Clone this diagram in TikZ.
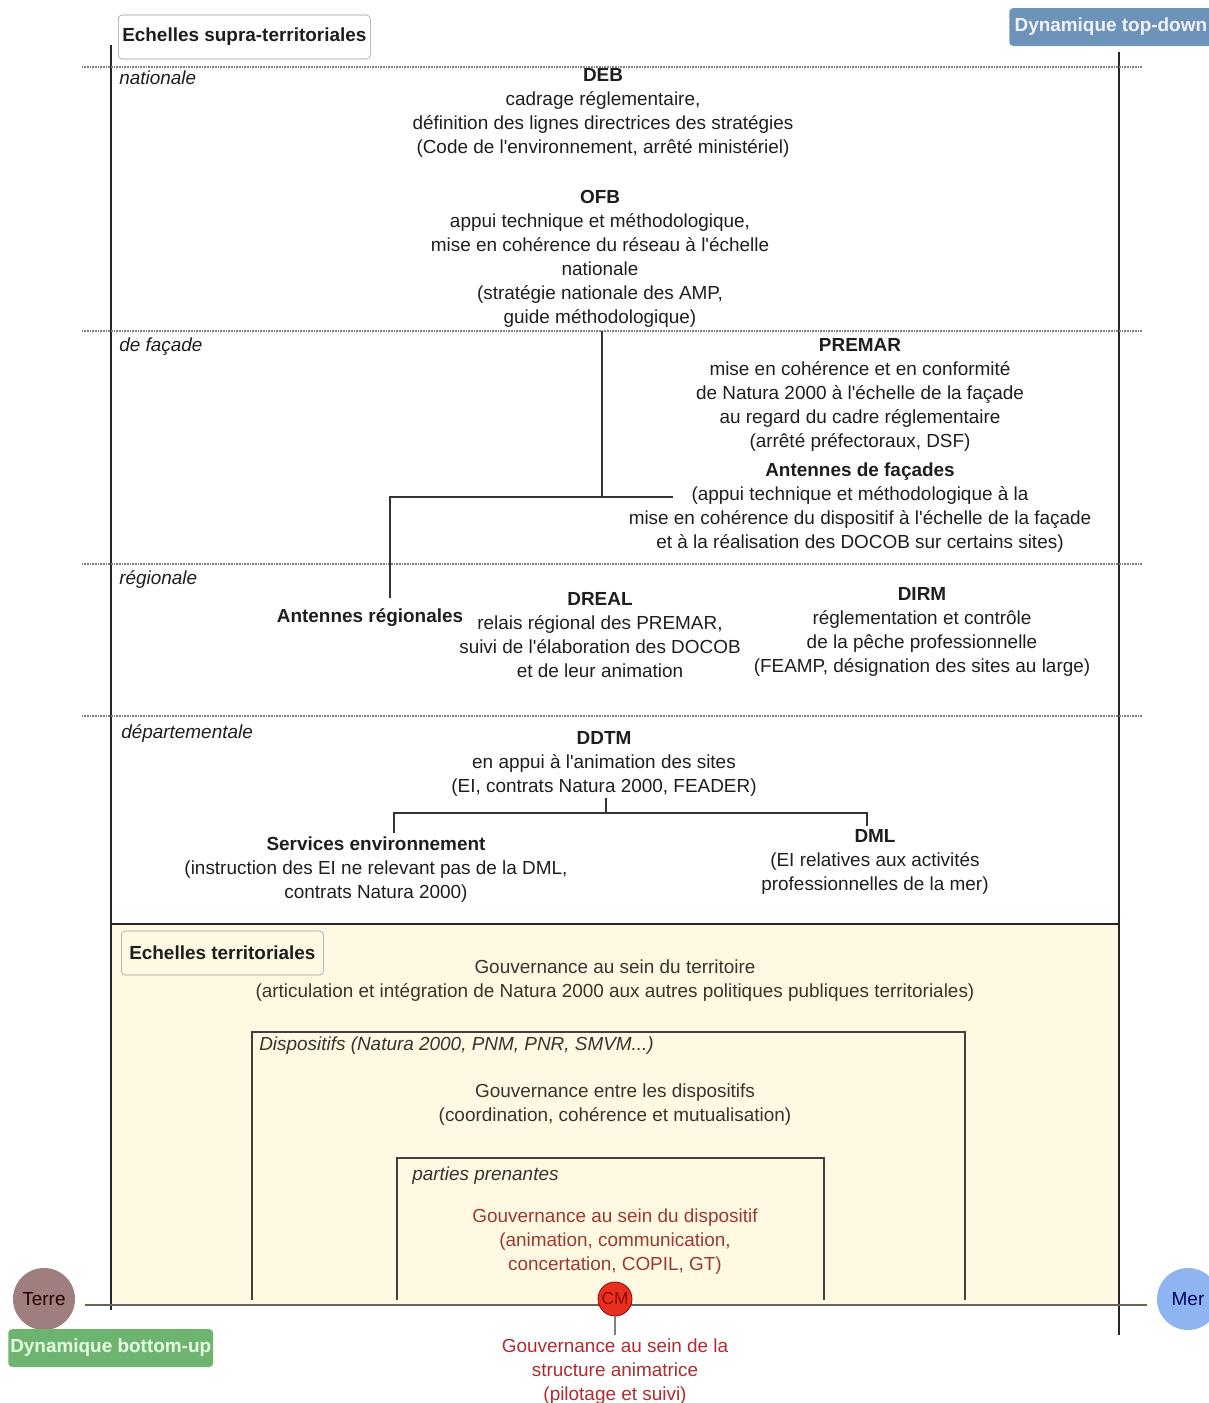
\documentclass[tikz,border=0pt]{standalone}
\usepackage{fontspec}
\setmainfont{Liberation Sans}[Ligatures=TeXOff]
\usetikzlibrary{positioning}
\definecolor{cream}{HTML}{FFF8E2}
\definecolor{topdown}{HTML}{6E93B8}
\definecolor{bottomup}{HTML}{6DB46E}
\definecolor{terre}{HTML}{9E7E7E}
\definecolor{mer}{HTML}{8FB4F2}
\definecolor{cmred}{HTML}{E8301E}
\definecolor{darkred}{HTML}{8B0A0A}
\definecolor{redtext}{HTML}{9B3A2F}
\definecolor{redtext2}{HTML}{B02A30}
\definecolor{txt}{HTML}{1E1E1E}
\definecolor{browntxt}{HTML}{3A322C}
\definecolor{axis}{HTML}{6B6358}
\begin{document}
\begin{tikzpicture}[x=0.75pt,y=-0.75pt,
  every node/.style={font=\fontsize{14.2}{18}\selectfont, text=txt},
  blk/.style={align=center, inner sep=0pt, anchor=north},
  lvl/.style={font=\fontsize{14.2}{18}\selectfont\itshape, inner sep=0pt, anchor=west},
  sep/.style={gray, line width=0.8pt, dash pattern=on 0.6pt off 0.6pt},
  conn/.style={draw=black!80, line width=1pt},
  tag/.style={rounded corners=3pt, font=\fontsize{14.2}{18}\selectfont\bfseries, inner sep=4pt}
]
\useasboundingbox (0,0) rectangle (1208,1403);
% yellow territorial area
\fill[cream] (111,924) rectangle (1119,1305);
\draw[black!85, line width=1pt] (111,924) -- (1119,924);
% main verticals
\draw[black!85, line width=1pt] (111,45) -- (111,1310);
\draw[black!85, line width=1pt] (1119,52) -- (1119,1335);
% separators
\foreach \yy in {67,331,564,716} \draw[sep] (82,\yy) -- (1142,\yy);
% boxes top
\node[tag, draw=gray!80, fill=white, minimum height=44pt*0.75, inner xsep=3pt, anchor=west] (supra) at (118,37) {Echelles supra-territoriales};
\node[tag, fill=topdown, text=white!95!blue, minimum height=38pt*0.75, anchor=west] (td) at (1009,27) {Dynamique top-down};
% level labels
\node[lvl] (nat) at (119,78) {nationale};
\node[lvl] (fac) at (119,347) {de façade};
\node[lvl] (reg) at (119,579) {régionale};
\node[lvl] (dep) at (121,733) {départementale};
% text blocks
\node[blk] (deb) at (603,68) {\textbf{DEB}\\cadrage réglementaire,\\définition des lignes directrices des stratégies\\(Code de l'environnement, arrêté ministériel)};
\node[blk] (ofb) at (600,190) {\textbf{OFB}\\appui technique et méthodologique,\\mise en cohérence du réseau à l'échelle\\nationale\\(stratégie nationale des AMP,\\guide méthodologique)};
\node[blk] (premar) at (860,338) {\textbf{PREMAR}\\mise en cohérence et en conformité\\de Natura 2000 à l'échelle de la façade\\au regard du cadre réglementaire\\(arrêté préfectoraux, DSF)};
\node[blk] (antf) at (860,463) {\textbf{Antennes de façades}\\(appui technique et méthodologique à la\\mise en cohérence du dispositif à l'échelle de la façade\\et à la réalisation des DOCOB sur certains sites)};
\node[blk] (antr) at (370,608) {\textbf{Antennes régionales}};
\node[blk] (dreal) at (600,592) {\textbf{DREAL}\\relais régional des PREMAR,\\suivi de l'élaboration des DOCOB\\et de leur animation};
\node[blk] (dirm) at (922,587) {\textbf{DIRM}\\réglementation et contrôle\\de la pêche professionnelle\\(FEAMP, désignation des sites au large)};
\node[blk] (ddtm) at (604,731) {\textbf{DDTM}\\en appui à l'animation des sites\\(EI, contrats Natura 2000, FEADER)};
\node[blk] (senv) at (376,837) {\textbf{Services environnement}\\(instruction des EI ne relevant pas de la DML,\\contrats Natura 2000)};
\node[blk] (dml) at (875,829) {\textbf{DML}\\(EI relatives aux activités\\professionnelles de la mer)};
% connectors
\coordinate (a1) at (602,331);
\coordinate (a2) at (602,497);
\coordinate (al) at (390,497);
\coordinate (ar) at (673,497);
\coordinate (a3) at (390,598);
\draw[conn] (a1) -- (a2);
\draw[conn] (ar) -- (al) -- (a3);
\coordinate (b1) at (606,798);
\coordinate (b2) at (606,813);
\coordinate (bl) at (394,813);
\coordinate (br) at (867,813);
\coordinate (bl2) at (394,833);
\coordinate (br2) at (867,826);
\draw[conn] (b1) -- (b2);
\draw[conn] (bl2) -- (bl) -- (br) -- (br2);
% territorial
\node[tag, draw=gray!80, fill=cream, minimum height=44pt*0.75, inner xsep=6pt, anchor=west] (terr) at (121,953) {Echelles territoriales};
\node[blk, text=browntxt] (gterr) at (615,960) {Gouvernance au sein du territoire\\(articulation et intégration de Natura 2000 aux autres politiques publiques territoriales)};
\draw[black!75, line width=1pt] (252,1300) -- (252,1032) -- (965,1032) -- (965,1300);
\node[lvl, text=browntxt] (disp) at (259,1046) {Dispositifs (Natura 2000, PNM, PNR, SMVM...)};
\node[blk, text=browntxt] (gdisp) at (615,1084) {Gouvernance entre les dispositifs\\(coordination, cohérence et mutualisation)};
\draw[black!75, line width=1pt] (397,1300) -- (397,1158) -- (824,1158) -- (824,1300);
\node[lvl, text=browntxt] (pp) at (412,1176) {parties prenantes};
\node[blk, text=redtext] (gsd) at (615,1208) {Gouvernance au sein du dispositif\\(animation, communication,\\concertation, COPIL, GT)};
% axis
\node[circle, fill=terre, minimum size=62pt*0.75, inner sep=0pt, text=black!85!red] (terre) at (44,1299) {Terre};
\node[circle, fill=mer, minimum size=62pt*0.75, inner sep=0pt, text=blue!40!black] (mer) at (1188,1299) {Mer};
\coordinate (axl) at (85,1305);
\coordinate (axr) at (1147,1305);
\draw[axis, line width=1.5pt] (axl) -- (axr);
\node[tag, fill=bottomup, text=white!90!green, minimum height=38pt*0.75, inner xsep=1.5pt, anchor=west] (bu) at (8,1348) {Dynamique bottom-up};
\node[blk, text=redtext2] (gsa) at (615,1338) {Gouvernance au sein de la\\structure animatrice\\(pilotage et suivi)};
\coordinate (cmb) at (615,1335);
\node[circle, fill=cmred, draw=darkred, line width=0.6pt, minimum size=34pt*0.75, inner sep=0pt, text=darkred, font=\fontsize{13}{14}\selectfont] (cm) at (615,1299) {CM};
\draw[gray, line width=1pt] (cm) -- (cmb);
\end{tikzpicture}
\end{document}
